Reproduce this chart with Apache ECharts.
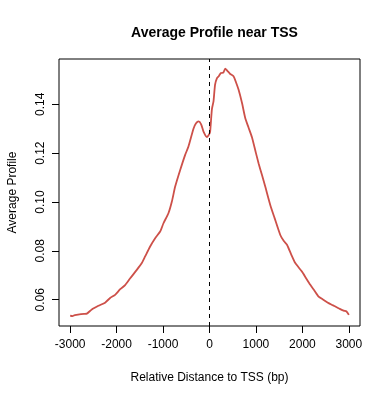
<!DOCTYPE html>
<html><head><meta charset="utf-8">
<script src="https://cdn.jsdelivr.net/npm/echarts@6/dist/echarts.min.js"></script>
<style>html,body{margin:0;padding:0;background:#fff}#c{width:390px;height:400px}</style>
</head><body><div id="c"></div>
<script>
const titleText = "Average Profile near TSS";
const xName = "Relative Distance to TSS (bp)";
const yName = "Average Profile";
const xTicks = [-3000, -2000, -1000, 0, 1000, 2000, 3000];
const yTicks = [0.06, 0.08, 0.10, 0.12, 0.14];
const distance = [-3000,-2950,-2900,-2800,-2700,-2640,-2534,-2392,-2248,-2140,-2032,-1922,-1817,-1707,-1565,-1457,-1386,-1278,-1170,-1062,-991,-884,-810,-739,-631,-524,-453,-345,-290,-235,-180,-129,-56,0,15,52,86,120,159,200,246,300,338,380,446,517,570,625,700,769,840,914,1000,1056,1130,1200,1308,1400,1524,1600,1668,1760,1847,1991,2080,2170,2260,2349,2450,2565,2650,2709,2800,2888,2950,3000];
const profile = [0.0535,0.0533,0.0537,0.0540,0.0542,0.0543,0.0560,0.0575,0.0588,0.0607,0.0620,0.0643,0.0660,0.0688,0.0722,0.0750,0.0777,0.0818,0.0852,0.0879,0.0913,0.0954,0.1002,0.1063,0.1131,0.1193,0.1227,0.1300,0.1322,0.1330,0.1318,0.1288,0.1266,0.1280,0.1290,0.1380,0.1412,0.1480,0.1506,0.1515,0.1528,0.1530,0.1546,0.1538,0.1524,0.1515,0.1490,0.1460,0.1405,0.1344,0.1305,0.1265,0.1200,0.1159,0.1110,0.1063,0.0988,0.0935,0.0865,0.0840,0.0825,0.0785,0.0750,0.0715,0.0688,0.0661,0.0637,0.0613,0.0600,0.0586,0.0578,0.0572,0.0563,0.0555,0.0552,0.0538];

const font = "Liberation Sans, Arial, Helvetica, sans-serif";
const chart = echarts.init(document.getElementById('c'), null, {renderer: 'canvas'});
chart.setOption({
  animation: false,
  backgroundColor: '#fff',
  title: {
    text: titleText, left: 209.5, top: 21, textAlign: 'center',
    textStyle: {fontFamily: font, fontSize: 14, fontWeight: 'bold', color: '#000'}
  },
  grid: {left: 59, right: 30, top: 59, bottom: 74, containLabel: false, outerBoundsMode: 'none',
    show: true, borderColor: '#000', borderWidth: 1, backgroundColor: 'transparent'},
  xAxis: {
    type: 'value', min: -3240, max: 3240, position: 'bottom',
    name: xName, nameLocation: 'middle', nameGap: 46,
    nameTextStyle: {fontFamily: font, fontSize: 12, color: '#000'},
    axisLine: {show: false, onZero: false},
    splitLine: {show: false},
    axisTick: {show: true, length: 7, inside: false, customValues: xTicks, lineStyle: {color: '#000', width: 1}},
    axisLabel: {show: true, customValues: xTicks, margin: 13, fontFamily: font, fontSize: 12, color: '#000',
      formatter: v => String(v)}
  },
  yAxis: {
    type: 'value', min: 0.04924, max: 0.15853, position: 'left',
    name: yName, nameLocation: 'middle', nameGap: 40, nameRotate: 90,
    nameTextStyle: {fontFamily: font, fontSize: 12, color: '#000'},
    axisLine: {show: false, onZero: false},
    splitLine: {show: false},
    axisTick: {show: true, length: 7, inside: false, customValues: yTicks, lineStyle: {color: '#000', width: 1}},
    axisLabel: {show: true, customValues: yTicks, rotate: 90, margin: 12, fontFamily: font, fontSize: 12, color: '#000',
      formatter: v => v.toFixed(2)}
  },
  series: [{
    type: 'line',
    data: distance.map((d, i) => [d, profile[i]]),
    showSymbol: false,
    smooth: 0.2,
    lineStyle: {color: '#cd5049', width: 1.8},
    markLine: {
      silent: true, symbol: 'none', label: {show: false},
      lineStyle: {color: '#000', type: [4, 4], width: 1},
      data: [{xAxis: 0}]
    }
  }]
});
</script></body></html>
